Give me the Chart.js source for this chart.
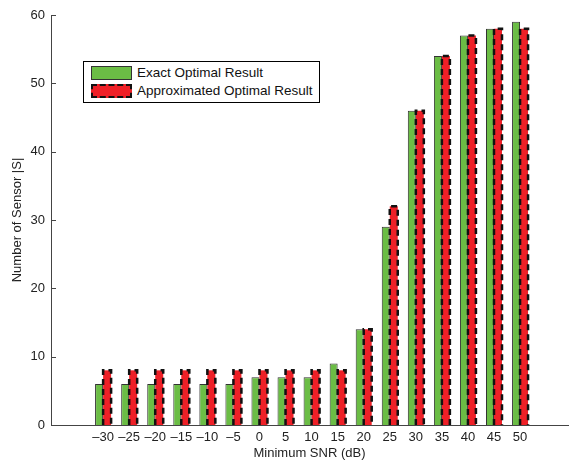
<!DOCTYPE html>
<html lang="en">
<head>
  <meta charset="UTF-8" />
  <script src="https://cdn.jsdelivr.net/npm/chart.js@4/dist/chart.umd.min.js"></script>
  <title>Number of Sensor vs Minimum SNR</title>
  <style>
    body { margin: 0; background: #fff; font-family: 'Liberation Sans', Arial, sans-serif; }
    #wrap { position: relative; width: 569px; height: 462px; overflow: hidden; }
    #legend {
      position: absolute; left: 83px; top: 61px; width: 235px; height: 40px;
      border: 1px solid #000; background: #fff; font-size: 13.5px; color: #111;
    }
    .row { position: absolute; left: 7px; height: 16px; line-height: 16px; white-space: nowrap; }
    .sw { display: inline-block; width: 41px; height: 14px; vertical-align: middle; box-sizing: border-box; }
    .row span.t { margin-left: 5px; vertical-align: middle; }
  </style>
</head>
<body>
<div id="wrap">
  <canvas id="chart" width="569" height="462"></canvas>
  <div id="legend">
    <div class="row" style="top: 3px">
      <span class="sw" style="background:#6bbd45; border:1px solid #333"></span><span class="t">Exact Optimal Result</span>
    </div>
    <div class="row" style="top: 21px">
      <span class="sw" style="background:#ee2027; border:2px dashed #111"></span><span class="t">Approximated Optimal Result</span>
    </div>
  </div>
</div>
<script>
  const snr = [-30, -25, -20, -15, -10, -5, 0, 5, 10, 15, 20, 25, 30, 35, 40, 45, 50];
  const exact = [6, 6, 6, 6, 6, 6, 7, 7, 7, 9, 14, 29, 46, 54, 57, 58, 59];
  const approx = [8, 8, 8, 8, 8, 8, 8, 8, 8, 8, 14, 32, 46, 54, 57, 58, 58];
  const yTicks = [0, 10, 20, 30, 40, 50, 60];

  const axisColor = "#444";
  const tickFont = { family: "'Liberation Sans', Arial, sans-serif", size: 13 };

  // dashed outline on the approximated bars, and small inward ticks on the y axis
  const extras = {
    id: "extras",
    afterDatasetsDraw(chart) {
      const ctx = chart.ctx;
      ctx.save();
      ctx.strokeStyle = "#111";
      ctx.lineWidth = 2.5;
      ctx.setLineDash([6, 4]);
      chart.getDatasetMeta(1).data.forEach(bar => {
        const { x, y, base, width } = bar.getProps(["x", "y", "base", "width"], true);
        const l = x - width / 2, r = x + width / 2;
        ctx.beginPath();
        ctx.moveTo(l, base);
        ctx.lineTo(l, y);
        ctx.lineTo(r, y);
        ctx.lineTo(r, base);
        ctx.stroke();
      });
      ctx.setLineDash([]);
      ctx.lineWidth = 1;
      ctx.strokeStyle = axisColor;
      const ys = chart.scales.y, left = chart.chartArea.left;
      yTicks.forEach(v => {
        const py = Math.round(ys.getPixelForValue(v)) + 0.5;
        ctx.beginPath();
        ctx.moveTo(left, py);
        ctx.lineTo(left + 5, py);
        ctx.stroke();
      });
      ctx.restore();
    }
  };

  new Chart(document.getElementById("chart"), {
    type: "bar",
    data: {
      datasets: [{
        label: "Exact Optimal Result",
        data: snr.map((s, i) => ({ x: s, y: exact[i] })),
        backgroundColor: "#6bbd45",
        borderColor: "#333",
        borderWidth: 1
      }, {
        label: "Approximated Optimal Result",
        data: snr.map((s, i) => ({ x: s, y: approx[i] })),
        backgroundColor: "#ee2027",
        borderWidth: 0
      }]
    },
    options: {
      responsive: false,
      animation: false,
      categoryPercentage: 0.614,
      barPercentage: 1,
      layout: { padding: { top: 15, right: 1, left: 0, bottom: 0 } },
      plugins: { legend: { display: false }, tooltip: { enabled: false } },
      scales: {
        x: {
          type: "linear",
          min: -40,
          max: 59.2,
          offset: false,
          afterBuildTicks: (scale) => { scale.ticks = snr.map(v => ({ value: v })); },
          afterFit: (scale) => { scale.height = 37; },
          grid: { display: false, drawTicks: false, offset: false },
          border: { display: true, color: axisColor, width: 1 },
          ticks: {
            padding: 5,
            font: tickFont,
            color: "#222",
            maxRotation: 0,
            autoSkip: false,
            callback: (v) => (v < 0 ? "\u2013" + Math.abs(v) : String(v))
          },
          title: {
            display: true,
            text: "Minimum SNR (dB)",
            font: tickFont,
            color: "#222",
            padding: { top: 0, bottom: 1 }
          }
        },
        y: {
          min: 0,
          max: 60,
          afterBuildTicks: (scale) => { scale.ticks = yTicks.map(v => ({ value: v })); },
          afterFit: (scale) => { scale.width = 51; },
          grid: { display: false, drawTicks: false },
          border: { display: true, color: axisColor, width: 1 },
          ticks: { padding: 6, font: tickFont, color: "#222" },
          title: {
            display: true,
            text: "Number of Sensor |S|",
            font: tickFont,
            color: "#222",
            padding: { top: 10, bottom: 0 }
          }
        }
      }
    },
    plugins: [extras]
  });
</script>
</body>
</html>
